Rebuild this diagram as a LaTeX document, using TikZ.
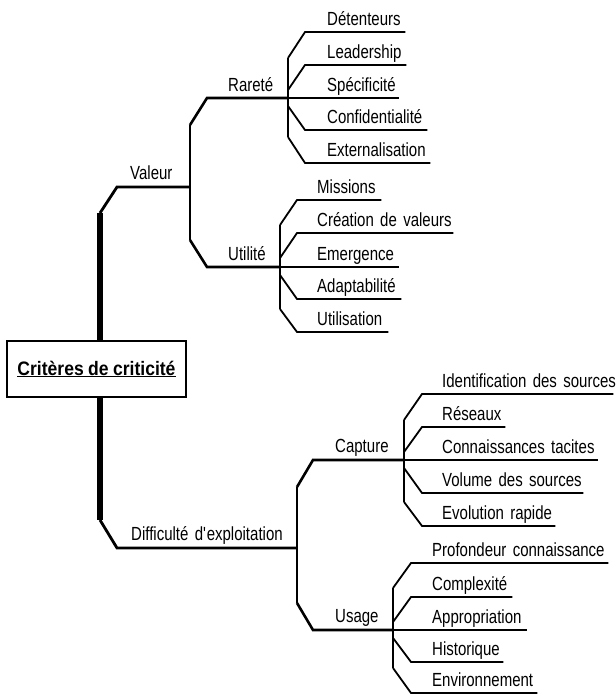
\documentclass[tikz,border=0pt]{standalone}
\usepackage{fontspec}
\setmainfont{Liberation Sans}[FakeStretch=0.79, WordSpace=0.79]
\newfontfamily\titlefont{Liberation Sans}[FakeStretch=0.9, WordSpace=0.9]
\usetikzlibrary{calc}

\begin{document}
\begin{tikzpicture}[x=1pt, y=-1pt, line join=miter]
\tikzset{lbl/.style={anchor=south west, inner sep=0pt, text depth=6pt, font=\fontsize{19}{22}\selectfont}}
\tikzstyle{trunk} = [line width=6pt]
\tikzstyle{bough} = [line width=2.8pt]
\tikzstyle{branch} = [line width=2.6pt]
\tikzstyle{twig} = [line width=1.8pt]
\tikzstyle{stem} = [line width=1.2pt]
\useasboundingbox (0,0) rectangle (615,695);

\node[draw, line width=1.5pt, minimum width=179pt, minimum height=56pt, inner sep=0pt,
  font=\titlefont\fontsize{19.5}{22}\selectfont\bfseries] (root) at (96.5,369) {\underline{Critères de criticité}};

% main boughs
\node[lbl, text depth=7.5pt, text width=60pt] (val) at (130,187) {Valeur};
\node[lbl, text depth=7.5pt, text width=166pt] (dif) at (131,548) {\mbox{Difficulté d\textquotesingle exploitation}};
\coordinate (vt) at (100,213);
\coordinate (dt) at (100,520);
\draw[trunk] (vt |- root.north) -- (vt);
\draw[trunk] (dt |- root.south) -- (dt);
\draw[bough] (vt) -- ++(17,-26) -- (val.south east);
\draw[bough] (dt) -- ++(17,28) -- (dif.south east);

% Valeur
\node[lbl, text width=60pt] (rar) at (228,98) {Rareté};
\node[lbl, text width=52pt] (uti) at (228,267) {Utilité};
\coordinate (v1) at (190,125);
\coordinate (v2) at (190,240);
\draw[stem] (v1) -- (v2);
\draw[branch] (v1) -- ++(17,-27) -- (rar.south east);
\draw[branch] (v2) -- ++(17,27) -- (uti.south east);

% Difficulte
\node[lbl, text depth=7pt, text width=68pt] (cap) at (335,460) {Capture};
\node[lbl, text depth=7pt, text width=58pt] (usa) at (335,630) {Usage};
\coordinate (d1) at (297,487);
\coordinate (d2) at (297,603);
\draw[stem] (d1) -- (d2);
\draw[branch] (d1) -- ++(16,-27) -- (cap.south east);
\draw[branch] (d2) -- ++(16,27) -- (usa.south east);

% Rarete
\node[lbl, text width=78pt] (det) at (327,32) {Détenteurs};
\node[lbl, text width=79pt] (lea) at (327,65) {Leadership};
\node[lbl, text width=72pt] (spe) at (327,98) {Spécificité};
\node[lbl, text width=100pt] (cof) at (327,130) {Confidentialité};
\node[lbl, text width=103pt] (ext) at (327,163) {Externalisation};
\coordinate (r1) at (288,58);
\coordinate (r2) at (288,90);
\coordinate (r4) at (288,106);
\coordinate (r5) at (288,137);
\draw[stem] (r1) -- (r5);
\draw[twig] (r1) -- ++(17,-26) -- (det.south east);
\draw[twig] (r2) -- ++(17,-25) -- (lea.south east);
\draw[twig] (rar.south east) -- (spe.south east);
\draw[twig] (r4) -- ++(17,24) -- (cof.south east);
\draw[twig] (r5) -- ++(17,26) -- (ext.south east);

% Utilite
\node[lbl, text width=64pt] (mis) at (317,200) {Missions};
\node[lbl, text width=136pt] (cre) at (317,233) {\mbox{Création de valeurs}};
\node[lbl, text width=82pt] (eme) at (317,267) {Emergence};
\node[lbl, text width=84pt] (ada) at (317,299) {Adaptabilité};
\node[lbl, text width=71pt] (utl) at (317,332) {Utilisation};
\coordinate (u1) at (280,225);
\coordinate (u2) at (280,258);
\coordinate (u4) at (280,275);
\coordinate (u5) at (280,309);
\draw[stem] (u1) -- (u5);
\draw[twig] (u1) -- ++(17,-25) -- (mis.south east);
\draw[twig] (u2) -- ++(17,-25) -- (cre.south east);
\draw[twig] (uti.south east) -- (eme.south east);
\draw[twig] (u4) -- ++(17,24) -- (ada.south east);
\draw[twig] (u5) -- ++(17,23) -- (utl.south east);

% Capture
\node[lbl, text width=171pt] (ide) at (442,394) {\mbox{Identification des sources}};
\node[lbl, text width=63pt] (res) at (442,427) {Réseaux};
\node[lbl, text width=156pt] (con) at (442,460) {\mbox{Connaissances tacites}};
\node[lbl, text width=141pt] (vol) at (442,493) {\mbox{Volume des sources}};
\node[lbl, text width=113pt] (evo) at (442,526) {\mbox{Evolution rapide}};
\coordinate (c1) at (404,420);
\coordinate (c2) at (404,452);
\coordinate (c4) at (404,468);
\coordinate (c5) at (404,502);
\draw[stem] (c1) -- (c5);
\draw[twig] (c1) -- ++(18,-26) -- (ide.south east);
\draw[twig] (c2) -- ++(18,-25) -- (res.south east);
\draw[twig] (cap.south east) -- (con.south east);
\draw[twig] (c4) -- ++(18,25) -- (vol.south east);
\draw[twig] (c5) -- ++(18,24) -- (evo.south east);

% Usage
\node[lbl, text width=176pt] (pro) at (432,563) {\mbox{Profondeur connaissance}};
\node[lbl, text width=80pt] (cpx) at (432,597) {Complexité};
\node[lbl, text width=95pt] (app) at (432,630) {Appropriation};
\node[lbl, text width=71pt] (his) at (432,662) {Historique};
\node[lbl, text width=105pt] (env) at (432,693) {Environnement};
\coordinate (s1) at (393,588);
\coordinate (s2) at (393,622);
\coordinate (s4) at (393,638);
\coordinate (s5) at (393,668);
\draw[stem] (s1) -- (s5);
\draw[twig] (s1) -- ++(18,-25) -- (pro.south east);
\draw[twig] (s2) -- ++(18,-25) -- (cpx.south east);
\draw[twig] (usa.south east) -- (app.south east);
\draw[twig] (s4) -- ++(18,24) -- (his.south east);
\draw[twig] (s5) -- ++(18,25) -- (env.south east);
\end{tikzpicture}
\end{document}
